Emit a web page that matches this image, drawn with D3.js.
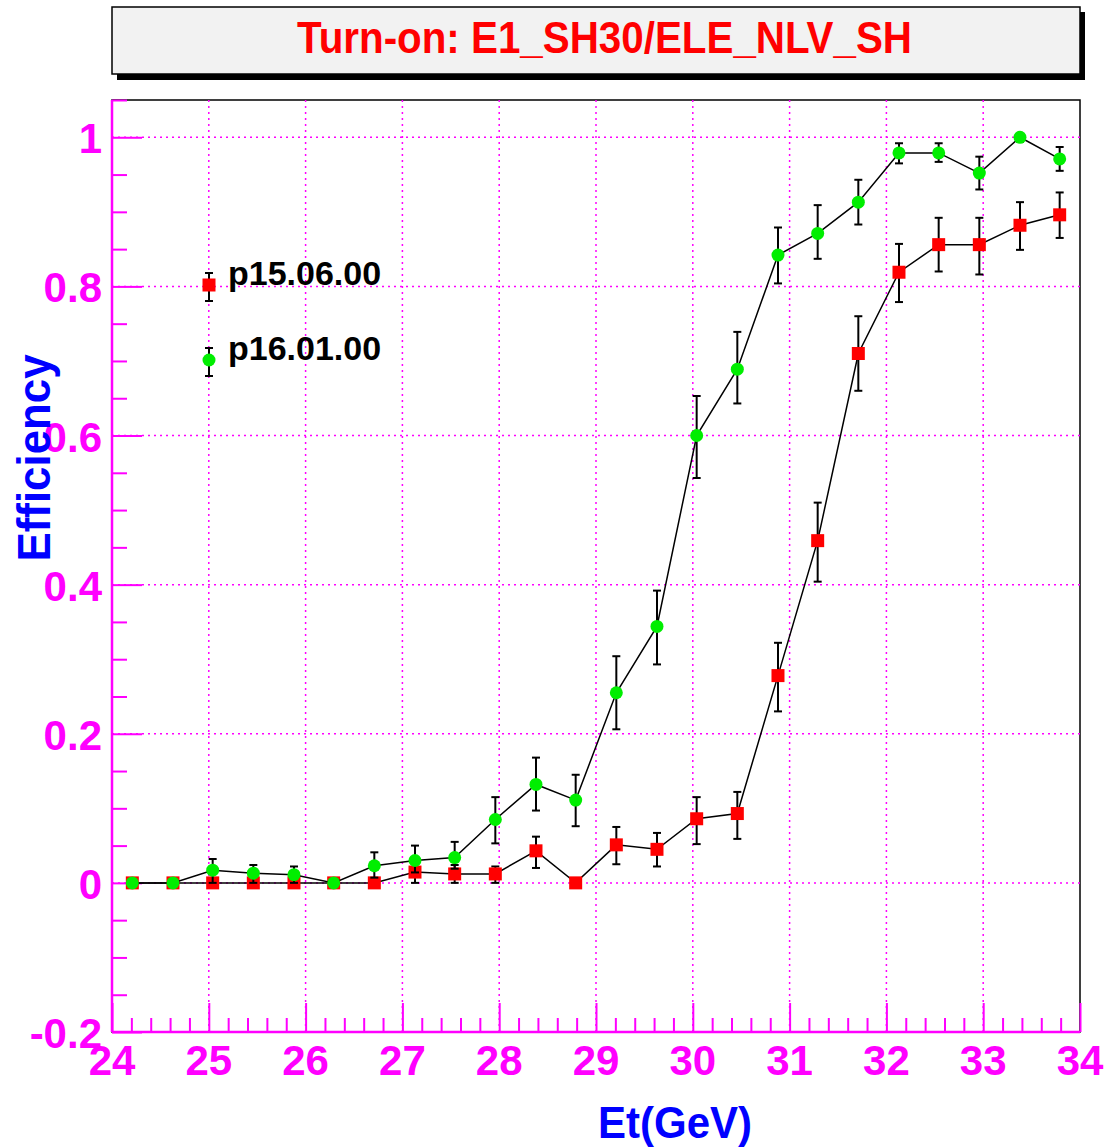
<!DOCTYPE html>
<html><head><meta charset="utf-8">
<script src="https://cdn.jsdelivr.net/npm/d3@7"></script>
<style>body{margin:0;background:#fff;} svg{display:block;}</style>
</head><body>
<script>
// ---- data ----
const titleText = "Turn-on: E1_SH30/ELE_NLV_SH";
const etBins = [24.21,24.63,25.04,25.46,25.88,26.29,26.71,27.13,27.54,27.96,28.38,28.79,
                29.21,29.63,30.04,30.46,30.88,31.29,31.71,32.13,32.54,32.96,33.38,33.79];
const effOld = [0,0,0,0,0,0,0,0.0145,0.012,0.012,0.043,0,0.051,0.045,0.086,0.093,0.278,0.459,0.710,0.819,0.856,0.856,0.882,0.896];
const errOldLo = [0,0,0,0,0,0,0,0.0145,0.012,0.012,0.023,0,0.026,0.023,0.034,0.034,0.048,0.055,0.050,0.040,0.036,0.040,0.033,0.031];
const errOldHi = [0,0,0,0,0,0,0,0.016,0.012,0.010,0.019,0,0.024,0.022,0.029,0.029,0.044,0.051,0.050,0.038,0.036,0.036,0.031,0.030];
const effNew = [0,0,0.017,0.013,0.011,0,0.023,0.030,0.034,0.085,0.132,0.111,0.255,0.344,0.600,0.689,0.842,0.871,0.913,0.979,0.979,0.952,1.0,0.971];
const errNewLo = [0,0,0.017,0.013,0.011,0,0.016,0.016,0.015,0.032,0.035,0.035,0.049,0.051,0.057,0.046,0.038,0.034,0.030,0.014,0.012,0.022,0.006,0.016];
const errNewHi = [0,0,0.015,0.011,0.011,0,0.018,0.020,0.021,0.030,0.036,0.034,0.049,0.048,0.053,0.050,0.037,0.038,0.030,0.013,0.013,0.022,0,0.016];
const seriesNames = ["p15.06.00","p16.01.00"];
const xTicks = [24,25,26,27,28,29,30,31,32,33,34];
const yTicks = [-0.2,0,0.2,0.4,0.6,0.8,1];
const yTickLabels = ["-0.2","0","0.2","0.4","0.6","0.8","1"];
const xTitle = "Et(GeV)", yTitle = "Efficiency";

// ---- layout ----
const W = 1107, H = 1148;
const L = 112, R = 1080, T = 100, B = 1032;
const magenta = "#ff00ff", blue = "#0000ff";

const svg = d3.select("body").append("svg").attr("width", W).attr("height", H)
  .style("font-family", "'Liberation Sans', Arial, Helvetica, sans-serif");

const x = d3.scaleLinear().domain([24, 34]).range([L, R]);
const y = d3.scaleLinear().domain([-0.2, 1.05]).range([B, T]);

// title box
svg.append("rect").attr("x", 117).attr("y", 12).attr("width", 968).attr("height", 68).attr("fill", "#000");
svg.append("rect").attr("x", 112).attr("y", 7).attr("width", 968).attr("height", 67)
  .attr("fill", "#f2f2f2").attr("stroke", "#000").attr("stroke-width", 1.5);
svg.append("text").attr("x", 604.5).attr("y", 53).attr("text-anchor", "middle")
  .attr("fill", "#ff0000").attr("font-size", 44).attr("font-weight", "bold")
  .attr("textLength", 615).attr("lengthAdjust", "spacingAndGlyphs").text(titleText);

// frame
svg.append("rect").attr("x", L).attr("y", T).attr("width", R - L).attr("height", B - T)
  .attr("fill", "#fff").attr("stroke", "#000").attr("stroke-width", 1.5);

// grid
const g = svg.append("g");
g.selectAll(".gx").data(xTicks.filter(d => d > 24 && d < 34)).enter().append("line")
  .attr("x1", d => x(d)).attr("x2", d => x(d)).attr("y1", T).attr("y2", B)
  .attr("stroke", magenta).attr("stroke-width", 1.5).attr("stroke-dasharray", "2,4");
g.selectAll(".gy").data(yTicks.filter(d => d > -0.2)).enter().append("line")
  .attr("x1", L).attr("x2", R).attr("y1", d => y(d)).attr("y2", d => y(d))
  .attr("stroke", magenta).attr("stroke-width", 1.5).attr("stroke-dasharray", "2,4");

// axes (ticks inward)
const xMinor = d3.range(24, 34.001, 0.2).filter(v => Math.abs(v - Math.round(v)) > 1e-6);
const yMinor = d3.range(-0.2, 1.0501, 0.05).filter(v => Math.abs(v * 5 - Math.round(v * 5)) > 1e-6);

svg.append("g").attr("transform", `translate(0,${B})`)
  .call(d3.axisTop(x).tickValues(xTicks).tickSize(29).tickFormat(""));
svg.append("g").attr("transform", `translate(0,${B})`)
  .call(d3.axisTop(x).tickValues(xMinor).tickSize(14).tickFormat(""));
svg.append("g").attr("transform", `translate(${L},0)`)
  .call(d3.axisRight(y).tickValues(yTicks).tickSize(30).tickFormat(""));
svg.append("g").attr("transform", `translate(${L},0)`)
  .call(d3.axisRight(y).tickValues(yMinor).tickSize(15).tickFormat(""));
svg.selectAll(".tick line").attr("stroke", magenta).attr("stroke-width", 2);
svg.selectAll(".domain").remove();
svg.append("line").attr("x1", L).attr("x2", R).attr("y1", B).attr("y2", B).attr("stroke", magenta).attr("stroke-width", 2.5);
svg.append("line").attr("x1", L).attr("x2", L).attr("y1", T).attr("y2", B).attr("stroke", magenta).attr("stroke-width", 2.5);

// tick labels
svg.selectAll(".xl").data(xTicks).enter().append("text")
  .attr("x", d => x(d)).attr("y", 1075).attr("text-anchor", "middle")
  .attr("fill", magenta).attr("font-size", 42).attr("font-weight", "bold").text(d => d);
svg.selectAll(".yl").data(yTicks).enter().append("text")
  .attr("x", 102).attr("y", d => y(d) + 16).attr("text-anchor", "end")
  .attr("fill", magenta).attr("font-size", 42).attr("font-weight", "bold")
  .text((d, i) => yTickLabels[i]);

// axis titles
svg.append("text").attr("x", 675).attr("y", 1138).attr("text-anchor", "middle")
  .attr("fill", blue).attr("font-size", 44).attr("font-weight", "bold")
  .attr("textLength", 154).attr("lengthAdjust", "spacingAndGlyphs").text(xTitle);
svg.append("text").attr("transform", "translate(50,458) rotate(-90)").attr("text-anchor", "middle")
  .attr("fill", blue).attr("font-size", 46).attr("font-weight", "bold")
  .attr("textLength", 207).attr("lengthAdjust", "spacingAndGlyphs").text(yTitle);

// series
function drawSeries(vals, lo, hi, kind, color) {
  const pts = etBins.map((e, i) => ({e, v: vals[i], lo: lo[i], hi: hi[i]}));
  const line = d3.line().x(d => x(d.e)).y(d => y(d.v));
  svg.append("path").datum(pts).attr("d", line).attr("fill", "none").attr("stroke", "#000").attr("stroke-width", 1.5);
  const eb = svg.append("g").attr("stroke", "#000").attr("stroke-width", 2);
  pts.filter(d => d.lo > 0 || d.hi > 0).forEach(d => {
    eb.append("line").attr("x1", x(d.e)).attr("x2", x(d.e)).attr("y1", y(d.v - d.lo)).attr("y2", y(d.v + d.hi));
    eb.append("line").attr("x1", x(d.e) - 4).attr("x2", x(d.e) + 4).attr("y1", y(d.v - d.lo)).attr("y2", y(d.v - d.lo));
    eb.append("line").attr("x1", x(d.e) - 4).attr("x2", x(d.e) + 4).attr("y1", y(d.v + d.hi)).attr("y2", y(d.v + d.hi));
  });
  if (kind === "square") {
    svg.append("g").selectAll("rect").data(pts).enter().append("rect")
      .attr("x", d => x(d.e) - 6.5).attr("y", d => y(d.v) - 6.5).attr("width", 13).attr("height", 13).attr("fill", color);
  } else {
    svg.append("g").selectAll("circle").data(pts).enter().append("circle")
      .attr("cx", d => x(d.e)).attr("cy", d => y(d.v)).attr("r", 6.5).attr("fill", color);
  }
}
drawSeries(effOld, errOldLo, errOldHi, "square", "#ff0000");
drawSeries(effNew, errNewLo, errNewHi, "circle", "#00ee00");

// legend
const leg = [{name: seriesNames[0], kind: "square", color: "#ff0000", cy: 285},
             {name: seriesNames[1], kind: "circle", color: "#00ee00", cy: 360}];
leg.forEach(l => {
  const lg = svg.append("g");
  lg.append("line").attr("x1", 209).attr("x2", 209).attr("y1", l.cy - 12).attr("y2", l.cy + 16).attr("stroke", "#000").attr("stroke-width", 2);
  lg.append("line").attr("x1", 205).attr("x2", 213).attr("y1", l.cy - 12).attr("y2", l.cy - 12).attr("stroke", "#000").attr("stroke-width", 2);
  lg.append("line").attr("x1", 205).attr("x2", 213).attr("y1", l.cy + 16).attr("y2", l.cy + 16).attr("stroke", "#000").attr("stroke-width", 2);
  if (l.kind === "square") lg.append("rect").attr("x", 202.5).attr("y", l.cy - 6.5).attr("width", 13).attr("height", 13).attr("fill", l.color);
  else lg.append("circle").attr("cx", 209).attr("cy", l.cy).attr("r", 6.5).attr("fill", l.color);
  lg.append("text").attr("x", 228).attr("y", l.cy).attr("fill", "#000").attr("font-size", 34)
    .attr("font-weight", "bold").text(l.name);
});
</script>
</body></html>
